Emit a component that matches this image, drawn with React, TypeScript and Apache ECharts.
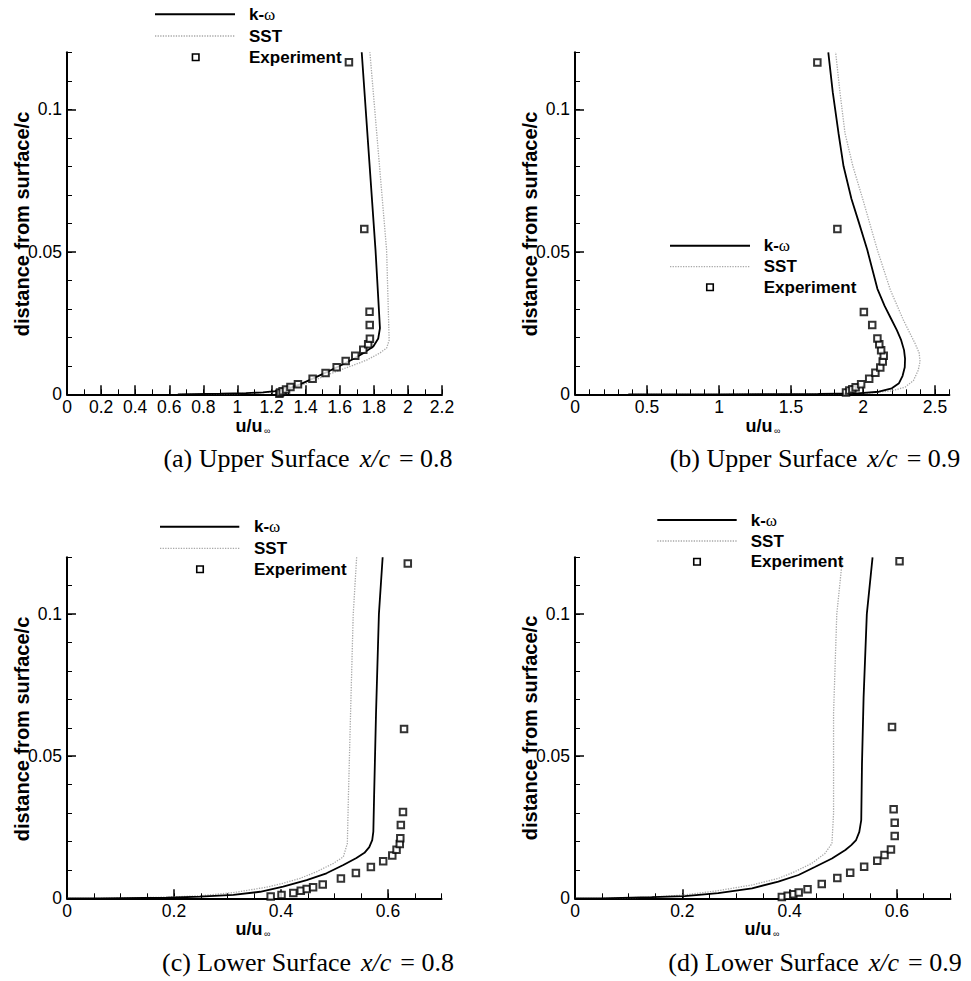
import React, { useEffect, useRef } from 'react';
import * as echarts from 'echarts';

// ---------- data: [u/u_inf, distance from surface / c] ----------
// (a) Upper surface x/c = 0.8
const kwA = [[0.65, 0], [0.9, 0.0002], [1.05, 0.0004], [1.15, 0.0007], [1.22, 0.0011], [1.29, 0.0018], [1.367, 0.0035], [1.445, 0.0056], [1.524, 0.0078], [1.602, 0.01], [1.68, 0.0124], [1.748, 0.0148], [1.797, 0.0168], [1.826, 0.0196], [1.836, 0.0232], [1.81, 0.0506], [1.729, 0.12]];
const sstA = [[0.66, 0], [0.88, 0.0001], [1.09, 0.0004], [1.21, 0.0008], [1.289, 0.0016], [1.367, 0.003], [1.445, 0.0048], [1.523, 0.0067], [1.601, 0.0085], [1.68, 0.0102], [1.758, 0.012], [1.836, 0.0145], [1.875, 0.0162], [1.89, 0.019], [1.875, 0.0506], [1.777, 0.12]];
const expA = [[1.246, 0.0002], [1.25, 0.0006], [1.265, 0.0011], [1.285, 0.0017], [1.311, 0.0026], [1.355, 0.0035], [1.441, 0.0055], [1.517, 0.0075], [1.582, 0.0095], [1.635, 0.0117], [1.691, 0.0135], [1.738, 0.0156], [1.767, 0.0176], [1.777, 0.0195], [1.776, 0.0243], [1.775, 0.029], [1.744, 0.058], [1.654, 0.1165]];

// (b) Upper surface x/c = 0.9
const kwB = [[0.37, 0], [1.0, 0], [1.69, 0.0001], [1.96, 0.0003], [2.11, 0.0009], [2.2, 0.0021], [2.25, 0.0039], [2.275, 0.0065], [2.29, 0.0095], [2.292, 0.0125], [2.285, 0.0155], [2.265, 0.019], [2.235, 0.0225], [2.195, 0.0265], [2.15, 0.031], [2.1, 0.037], [2.03, 0.0506], [1.97, 0.0605], [1.92, 0.0685], [1.865, 0.08], [1.83, 0.0916], [1.79, 0.106], [1.759, 0.12]];
const sstB = [[0.4, 0], [1.0, 0], [1.69, 0.0001], [2.037, 0.0004], [2.199, 0.0012], [2.292, 0.0025], [2.35, 0.0048], [2.384, 0.0085], [2.396, 0.0115], [2.39, 0.0145], [2.361, 0.0179], [2.32, 0.022], [2.28, 0.0261], [2.19, 0.0366], [2.1, 0.0506], [2.0, 0.0682], [1.93, 0.08], [1.875, 0.0916], [1.84, 0.106], [1.81, 0.12]];
const expB = [[1.882, 0.0006], [1.905, 0.0013], [1.926, 0.0018], [1.949, 0.0025], [1.987, 0.0035], [2.043, 0.0055], [2.086, 0.0076], [2.12, 0.0094], [2.137, 0.0115], [2.144, 0.0135], [2.126, 0.0155], [2.113, 0.0176], [2.1, 0.0196], [2.064, 0.0243], [2.006, 0.0289], [1.822, 0.058], [1.683, 0.1164]];

// (c) Lower surface x/c = 0.8
const kwC = [[0, 0], [0.062, 0], [0.186, 0.0002], [0.249, 0.0006], [0.311, 0.0012], [0.361, 0.0023], [0.404, 0.0041], [0.448, 0.0064], [0.485, 0.0088], [0.5165, 0.0117], [0.541, 0.0142], [0.556, 0.016], [0.565, 0.018], [0.5705, 0.0205], [0.5726, 0.0235], [0.574, 0.0357], [0.5776, 0.065], [0.583, 0.1], [0.59, 0.12]];
const sstC = [[0, 0], [0.062, 0], [0.186, 0.0004], [0.249, 0.0009], [0.311, 0.002], [0.373, 0.0039], [0.404, 0.0053], [0.4355, 0.007], [0.467, 0.0094], [0.498, 0.0123], [0.5165, 0.0146], [0.524, 0.0193], [0.526, 0.0357], [0.53, 0.065], [0.535, 0.1], [0.5414, 0.12]];
const expC = [[0.3807, 0.0006], [0.401, 0.0012], [0.423, 0.0019], [0.437, 0.0027], [0.448, 0.0033], [0.46, 0.0039], [0.478, 0.0049], [0.512, 0.007], [0.54, 0.0089], [0.568, 0.011], [0.591, 0.013], [0.608, 0.0151], [0.616, 0.0171], [0.622, 0.0191], [0.623, 0.0211], [0.624, 0.0258], [0.628, 0.0304], [0.63, 0.0596], [0.637, 0.1178]];

// (d) Lower surface x/c = 0.9
const kwD = [[0, 0], [0.05, 0], [0.143, 0.0004], [0.205, 0.0008], [0.267, 0.0018], [0.33, 0.0035], [0.379, 0.0059], [0.4167, 0.0082], [0.448, 0.0111], [0.479, 0.014], [0.504, 0.017], [0.515, 0.0187], [0.524, 0.0205], [0.53, 0.0234], [0.5336, 0.0275], [0.535, 0.0474], [0.538, 0.0708], [0.544, 0.1], [0.5547, 0.12]];
const sstD = [[0, 0], [0.05, 0], [0.143, 0.0004], [0.205, 0.0012], [0.267, 0.0027], [0.33, 0.0047], [0.379, 0.007], [0.41, 0.0094], [0.4415, 0.0123], [0.466, 0.0158], [0.479, 0.0193], [0.482, 0.0299], [0.482, 0.065], [0.488, 0.1], [0.4988, 0.12]];
const expD = [[0.3856, 0.0005], [0.3965, 0.0009], [0.407, 0.0014], [0.417, 0.002], [0.4335, 0.0032], [0.46, 0.005], [0.489, 0.0071], [0.513, 0.009], [0.539, 0.0111], [0.5635, 0.0132], [0.577, 0.0152], [0.589, 0.0172], [0.596, 0.0219], [0.596, 0.0266], [0.594, 0.0313], [0.591, 0.0603], [0.605, 0.1186]];

// ---------- tick labels ----------
const xTicksA = [0, 0.2, 0.4, 0.6, 0.8, 1, 1.2, 1.4, 1.6, 1.8, 2, 2.2];
const xTicksB = [0, 0.5, 1, 1.5, 2, 2.5];
const xTicksLower = [0, 0.2, 0.4, 0.6];
const yTicks = [0, 0.05, 0.1];

const seriesNames = ['k-ω', 'SST', 'Experiment'];
const captions = [
  { tag: '(a) Upper Surface', val: '= 0.8' },
  { tag: '(b) Upper Surface', val: '= 0.9' },
  { tag: '(c) Lower Surface', val: '= 0.8' },
  { tag: '(d) Lower Surface', val: '= 0.9' },
];

const SANS = '"Liberation Sans", Arial, Helvetica, sans-serif';
const SERIF = '"Liberation Serif", "Times New Roman", serif';

const panels = [
  { kw: kwA, sst: sstA, exp: expA, xMax: 2.2, xStep: 0.2, xMinor: 0.1, xTicks: xTicksA,
    grid: { left: 67, top: 52.3, width: 375, height: 342 },
    legend: { x0: 155, x1: 235, ys: [14.3, 36, 57.3], tx: 249, mx: 195.7 },
    xTitle: { x: 249, y: 425.5 }, yTitle: { x: 21.7, y: 224 }, cap: { x: 308, y: 458 } },
  { kw: kwB, sst: sstB, exp: expB, xMax: 2.6, xStep: 0.5, xMinor: 0.1, xTicks: xTicksB,
    grid: { left: 575, top: 52.3, width: 374.4, height: 342 },
    legend: { x0: 670, x1: 750, ys: [245.7, 266.7, 287.3], tx: 763.7, mx: 710 },
    xTitle: { x: 759, y: 425.5 }, yTitle: { x: 529.5, y: 224 }, cap: { x: 815, y: 458 } },
  { kw: kwC, sst: sstC, exp: expC, xMax: 0.7, xStep: 0.2, xMinor: 0.05, xTicks: xTicksLower,
    grid: { left: 67, top: 557.3, width: 374.5, height: 341 },
    legend: { x0: 160, x1: 239.3, ys: [526.7, 548.3, 569.3], tx: 254, mx: 200 },
    xTitle: { x: 249, y: 928.5 }, yTitle: { x: 21.5, y: 729 }, cap: { x: 308, y: 962 } },
  { kw: kwD, sst: sstD, exp: expD, xMax: 0.7, xStep: 0.2, xMinor: 0.05, xTicks: xTicksLower,
    grid: { left: 575, top: 557.3, width: 375.5, height: 341 },
    legend: { x0: 657.3, x1: 736.7, ys: [520, 541, 561.7], tx: 750.7, mx: 697 },
    xTitle: { x: 758, y: 928.5 }, yTitle: { x: 530, y: 728 }, cap: { x: 815, y: 962 } },
];

const fmt = (v: number) => String(Number(Number(v).toFixed(3)));

function buildOption() {
  const grid: any[] = [];
  const xAxis: any[] = [];
  const yAxis: any[] = [];
  const series: any[] = [];
  const graphic: any[] = [];

  panels.forEach((p, i) => {
    grid.push({ ...p.grid, containLabel: false });
    // major x axis
    xAxis.push({
      gridIndex: i, type: 'value', position: 'bottom', min: 0, max: p.xMax, interval: p.xStep,
      axisLine: { show: true, onZero: false, lineStyle: { color: '#000', width: 2 } },
      axisTick: { show: true, inside: true, length: 9, customValues: p.xTicks, lineStyle: { color: '#000', width: 1.5 } },
      axisLabel: { show: true, margin: 4, customValues: p.xTicks, formatter: fmt,
        color: '#000', fontSize: 17.5, lineHeight: 17, fontFamily: SANS },
      splitLine: { show: false },
    });
    // minor x axis
    xAxis.push({
      gridIndex: i, type: 'value', position: 'bottom', min: 0, max: p.xMax, interval: p.xMinor,
      axisLine: { show: false, onZero: false },
      axisTick: { show: true, inside: true, length: 5, lineStyle: { color: '#000', width: 1 } },
      axisLabel: { show: false }, splitLine: { show: false },
    });
    // major y axis
    yAxis.push({
      gridIndex: i, type: 'value', position: 'left', min: 0, max: 0.12, interval: 0.05,
      axisLine: { show: true, onZero: false, lineStyle: { color: '#000', width: 2 } },
      axisTick: { show: true, inside: true, length: 9, customValues: yTicks, lineStyle: { color: '#000', width: 1.5 } },
      axisLabel: { show: true, margin: 5, customValues: yTicks, formatter: fmt,
        color: '#000', fontSize: 17.5, fontFamily: SANS },
      splitLine: { show: false },
    });
    // minor y axis
    yAxis.push({
      gridIndex: i, type: 'value', position: 'left', min: 0, max: 0.12, interval: 0.01,
      axisLine: { show: false, onZero: false },
      axisTick: { show: true, inside: true, length: 5, lineStyle: { color: '#000', width: 1 } },
      axisLabel: { show: false }, splitLine: { show: false },
    });

    series.push({
      name: seriesNames[0], type: 'line', xAxisIndex: 2 * i, yAxisIndex: 2 * i, data: p.kw,
      showSymbol: false, symbol: 'none', lineStyle: { color: '#000', width: 1.8 }, z: 3,
    });
    series.push({
      name: seriesNames[1], type: 'line', xAxisIndex: 2 * i, yAxisIndex: 2 * i, data: p.sst,
      showSymbol: false, symbol: 'none', lineStyle: { color: '#a8a8a8', width: 1.3, type: [1.3, 1.3] }, z: 2,
    });
    series.push({
      name: seriesNames[2], type: 'scatter', xAxisIndex: 2 * i, yAxisIndex: 2 * i, data: p.exp,
      symbol: 'emptyRect', symbolSize: 6.5, itemStyle: { color: '#000', borderColor: '#000', borderWidth: 1.6 }, z: 4,
    });

    // legend
    const L = p.legend;
    graphic.push({ type: 'line', shape: { x1: L.x0, y1: L.ys[0], x2: L.x1, y2: L.ys[0] }, style: { stroke: '#000', lineWidth: 2 }, z: 10 });
    graphic.push({ type: 'line', shape: { x1: L.x0, y1: L.ys[1], x2: L.x1, y2: L.ys[1] }, style: { stroke: '#a8a8a8', lineWidth: 1.3, lineDash: [1.3, 1.3] }, z: 10 });
    graphic.push({ type: 'rect', shape: { x: L.mx - 3.25, y: L.ys[2] - 3.25, width: 6.5, height: 6.5 }, style: { fill: '#fff', stroke: '#000', lineWidth: 1.6 }, z: 10 });
    graphic.push({
      type: 'text', x: L.tx, y: L.ys[0], z: 10,
      style: {
        text: '{b|k-}{w|ω}', align: 'left', verticalAlign: 'middle', textAlign: 'left', textVerticalAlign: 'middle',
        rich: {
          b: { fontFamily: SANS, fontWeight: 'bold', fontSize: 17, fill: '#000', color: '#000' },
          w: { fontFamily: SERIF, fontWeight: 'normal', fontSize: 17, fill: '#000', color: '#000' },
        },
      },
    });
    [seriesNames[1], seriesNames[2]].forEach((nm, k) => {
      graphic.push({
        type: 'text', x: L.tx, y: L.ys[k + 1], z: 10,
        style: { text: nm, fontFamily: SANS, fontWeight: 'bold', fontSize: 17, fill: '#000',
          align: 'left', verticalAlign: 'middle', textAlign: 'left', textVerticalAlign: 'middle' },
      });
    });

    // x axis title
    graphic.push({
      type: 'text', x: p.xTitle.x, y: p.xTitle.y, z: 10,
      style: { text: 'u/u', fontFamily: SANS, fontWeight: 'bold', fontSize: 18, fill: '#000',
        align: 'center', verticalAlign: 'middle', textAlign: 'center', textVerticalAlign: 'middle' },
    });
    graphic.push({
      type: 'text', x: p.xTitle.x + 15, y: p.xTitle.y + 5, z: 10,
      style: { text: '∞', fontFamily: SANS, fontSize: 9, fill: '#000',
        align: 'left', verticalAlign: 'middle', textAlign: 'left', textVerticalAlign: 'middle' },
    });
    // y axis title
    graphic.push({
      type: 'text', x: p.yTitle.x, y: p.yTitle.y, rotation: Math.PI / 2, z: 10,
      style: { text: 'distance from surface/c', fontFamily: SANS, fontWeight: 'bold', fontSize: 20, fill: '#000',
        align: 'center', verticalAlign: 'middle', textAlign: 'center', textVerticalAlign: 'middle' },
    });
    // caption
    const c = captions[i];
    graphic.push({
      type: 'text', x: p.cap.x, y: p.cap.y, z: 10,
      style: {
        text: `{n|${c.tag}}{i|x/c}{e|${c.val}}`,
        align: 'center', verticalAlign: 'middle', textAlign: 'center', textVerticalAlign: 'middle',
        rich: {
          n: { fontFamily: SERIF, fontSize: 26, fill: '#000', color: '#000' },
          i: { fontFamily: SERIF, fontStyle: 'italic', fontSize: 26, fill: '#000', color: '#000', padding: [0, 0, 0, 10] },
          e: { fontFamily: SERIF, fontSize: 26, fill: '#000', color: '#000', padding: [0, 0, 0, 9] },
        },
      },
    });
  });

  return {
    animation: false,
    backgroundColor: '#fff',
    grid, xAxis, yAxis, series, graphic,
  };
}

export default function App() {
  const ref = useRef<HTMLDivElement>(null);
  useEffect(() => {
    if (!ref.current) return;
    const chart = echarts.init(ref.current, undefined, { renderer: 'svg', width: 971, height: 981 });
    chart.setOption(buildOption() as any);
    return () => chart.dispose();
  }, []);
  return (
    <div
      ref={ref}
      style={{ position: 'absolute', left: 0, top: 0, width: 971, height: 981, background: '#fff' }}
    />
  );
}
